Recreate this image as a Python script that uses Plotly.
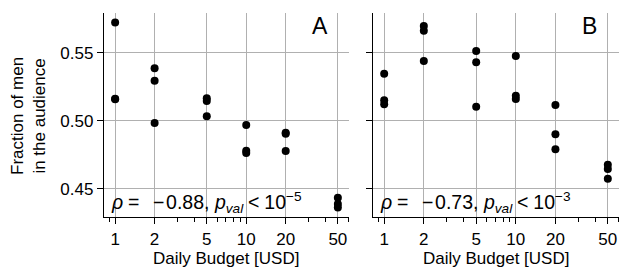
import plotly.graph_objects as go

# ---- data ----
budgets_a = [1, 1, 1, 2, 2, 2, 5, 5, 5, 10, 10, 10, 20, 20, 20, 50, 50, 50]
frac_a = [0.5721, 0.5157, 0.5162, 0.5384, 0.5293, 0.4983, 0.5164, 0.5144, 0.5032,
          0.4968, 0.4780, 0.4763, 0.4912, 0.4905, 0.4778, 0.4435, 0.4389, 0.4363]
budgets_b = [1, 1, 1, 2, 2, 2, 5, 5, 5, 10, 10, 10, 20, 20, 20, 50, 50, 50]
frac_b = [0.5345, 0.5150, 0.5120, 0.5694, 0.5660, 0.5438, 0.5511, 0.5428, 0.5103,
          0.5474, 0.5183, 0.5159, 0.5115, 0.4900, 0.4790, 0.4677, 0.4646, 0.4575]
x_ticks = [1, 2, 5, 10, 20, 50]
x_ticktext = ["1", "2", "5", "10", "20", "50"]
x_minor = [0.9, 3, 4, 6, 7, 8, 9, 30, 40, 60]
y_ticks = [0.45, 0.50, 0.55]
y_ticktext = ["0.45", "0.50", "0.55"]
labels = ["A", "B"]
stats = ["<i>ρ</i>&#8197;=&#8194;&#8201;−&#8202;0.88, <i>p</i><sub><i>val</i></sub>&#8197;&lt;&#8197;10<sup>−5</sup>",
         "<i>ρ</i>&#8197;=&#8194;&#8201;−&#8202;0.73, <i>p</i><sub><i>val</i></sub>&#8197;&lt;&#8197;10<sup>−3</sup>"]

FONT = "Liberation Sans, Arial, sans-serif"
W, H = 619, 273

fig = go.Figure()
fig.add_trace(go.Scatter(x=budgets_a, y=frac_a, mode="markers", xaxis="x", yaxis="y",
                         marker=dict(color="black", size=8), showlegend=False,
                         cliponaxis=False))
fig.add_trace(go.Scatter(x=budgets_b, y=frac_b, mode="markers", xaxis="x2", yaxis="y2",
                         marker=dict(color="black", size=8), showlegend=False,
                         cliponaxis=False))

xr = [-0.085, 1.784]
yr = [0.4294, 0.5790]
grid = "#b0b0b0"
common_x = dict(type="log", range=xr, tickvals=x_ticks, ticktext=x_ticktext,
                showline=True, linecolor="black", linewidth=1.3, mirror=False,
                ticks="outside", ticklen=6, tickwidth=1.2, tickcolor="black",
                showgrid=True, gridcolor=grid, gridwidth=1.3, zeroline=False,
                tickfont=dict(family=FONT, size=17, color="black"),
                minor=dict(tickvals=x_minor, ticks="outside", ticklen=3.4,
                           tickwidth=1, tickcolor="black", showgrid=False))
common_y = dict(range=yr, tickvals=y_ticks, ticktext=y_ticktext,
                showline=True, linecolor="black", linewidth=1.3,
                ticks="outside", ticklen=6, tickwidth=1.2, tickcolor="black",
                showgrid=True, gridcolor=grid, gridwidth=1.3, zeroline=False,
                tickfont=dict(family=FONT, size=17, color="black"))

ybot, ytop = 1 - 217 / H, 1 - 13 / H
xa = [104 / W, 349 / W]
xb = [373 / W, 1.0]

fig.update_layout(
    width=W, height=H, margin=dict(l=0, r=0, t=0, b=0),
    paper_bgcolor="white", plot_bgcolor="white",
    xaxis=dict(domain=xa, anchor="y", **common_x),
    xaxis2=dict(domain=xb, anchor="y2", **common_x),
    yaxis=dict(domain=[ybot, ytop], anchor="x", **common_y),
    yaxis2=dict(domain=[ybot, ytop], anchor="x2", showticklabels=False, **common_y),
)

ann = []
centers = [(xa[0] + xa[1]) / 2, (xb[0] + xb[1]) / 2]
letter_x = [330 / W, 599 / W]
stat_x = [109 / W, 378 / W]
for i in range(2):
    ann.append(dict(text="Daily Budget [USD]", x=centers[i], y=1 - 258 / H, xref="paper", yref="paper",
                    xanchor="center", yanchor="middle", showarrow=False,
                    font=dict(family=FONT, size=17, color="black")))
    ann.append(dict(text=labels[i], x=letter_x[i], y=1 - 26 / H, xref="paper", yref="paper",
                    xanchor="right", yanchor="middle", showarrow=False,
                    font=dict(family=FONT, size=23, color="black")))
    ann.append(dict(text=stats[i], x=stat_x[i], y=1 - 202 / H, xref="paper", yref="paper",
                    xanchor="left", yanchor="middle", showarrow=False,
                    font=dict(family=FONT, size=19.5, color="black")))
ann.append(dict(text="Fraction of men<br>in the audience", x=28 / W, y=1 - 116 / H,
                xref="paper", yref="paper", xanchor="center", yanchor="middle",
                textangle=-90, showarrow=False,
                font=dict(family=FONT, size=17, color="black")))
fig.update_layout(annotations=ann)

fig.write_html("out.html", config={"displayModeBar": False},
               post_script="document.body.style.margin='0';document.body.style.overflow='hidden';")
